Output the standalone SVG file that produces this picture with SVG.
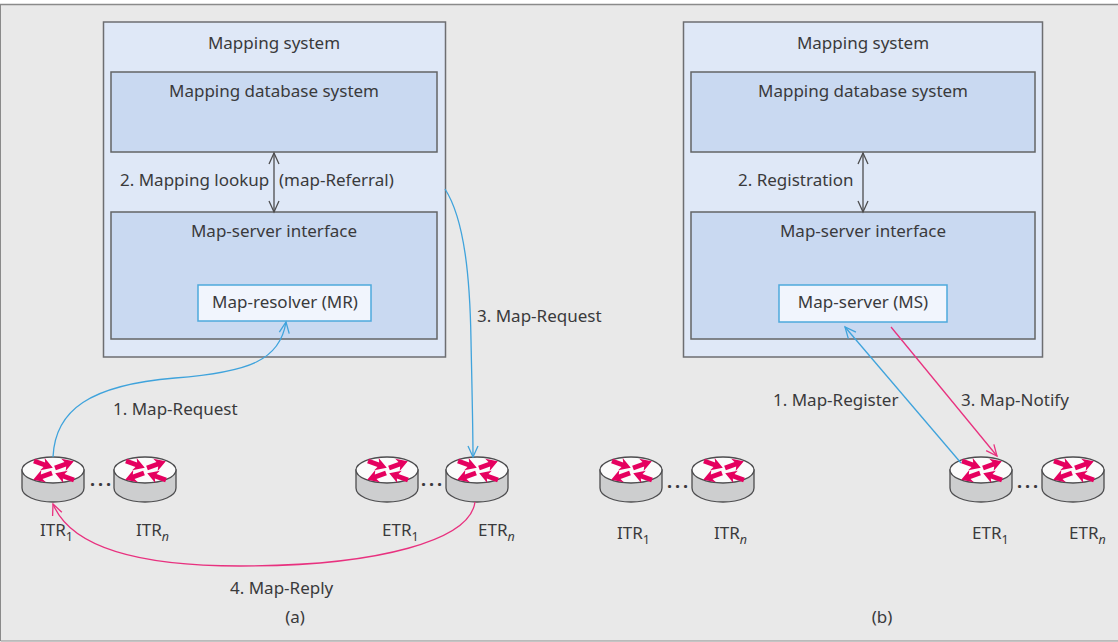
<svg xmlns="http://www.w3.org/2000/svg" width="1118" height="642" viewBox="0 0 1118 642">
<style>
text{font-family:"Noto Sans","Open Sans","Liberation Sans",sans-serif;font-size:17px;fill:#3a3a3c}
.m{text-anchor:middle}
.sys{fill:#dfe8f7;stroke:#6d6e71;stroke-width:1.5}
.db{fill:#c9d9f1;stroke:#636466;stroke-width:1.5}
.mr{fill:#f1f5fd;stroke:#4da9dc;stroke-width:1.5}
.c{fill:none;stroke-width:1.3}
.blue{stroke:#3fa3dc}
.pink{stroke:#e8317f}
.gray{stroke:#4d4d4f}
.sub{font-size:12.5px}
.dots{font-weight:bold;letter-spacing:3px;font-size:18px}
</style>
<defs>
<marker id="ab" markerWidth="14" markerHeight="14" refX="12" refY="6" orient="auto" markerUnits="userSpaceOnUse"><path d="M1 1L12 6L1 11" fill="none" stroke="#3fa3dc" stroke-width="1.3"/></marker>
<marker id="ap" markerWidth="14" markerHeight="14" refX="12" refY="6" orient="auto" markerUnits="userSpaceOnUse"><path d="M1 1L12 6L1 11" fill="none" stroke="#e8317f" stroke-width="1.3"/></marker>
<marker id="ag" markerWidth="14" markerHeight="14" refX="12" refY="6" orient="auto-start-reverse" markerUnits="userSpaceOnUse"><path d="M1 1L12 6L1 11" fill="none" stroke="#4d4d4f" stroke-width="1.3"/></marker>
<path id="arr" d="M0 -2.500L11 -2.500L9 -6.500L20 0L9 6.500L11 2.500L0 2.500Z" fill="#e5005f"/>
<g id="router">
<path d="M-31 0V18C-31 26 -17 32 0 32S31 26 31 18V0Z" fill="#cdcecf" stroke="#4d4d4f" stroke-width="1.3"/>
<ellipse cx="0" cy="0" rx="31" ry="13" fill="#fbfbfb" stroke="#4d4d4f" stroke-width="1.3"/>
<use href="#arr" transform="translate(-19 -9) rotate(20)"/>
<use href="#arr" transform="translate(2 -2) rotate(-20)"/>
<use href="#arr" transform="translate(-1 3) rotate(160)"/>
<use href="#arr" transform="translate(21 10) rotate(200)"/>
</g>
</defs>
<rect x="0" y="0" width="1118" height="642" fill="#fff"/>
<rect x="0" y="4" width="1118" height="637" fill="#e9e9e9"/>
<path d="M0 4.500H1118" stroke="#8a8a8a" stroke-width="1.500" fill="none"/>
<path d="M.5 4V641H1118" stroke="#8a8a8a" stroke-width="1" fill="none"/>

<g id="mapping-a">
<rect class="sys" x="103.500" y="22" width="342" height="335"/>
<text class="m" x="274" y="49">Mapping system</text>
</g>
<g id="database-a">
<rect class="db" x="111" y="72" width="326" height="80"/>
<text class="m" x="274" y="97">Mapping database system</text>
</g>
<g id="interface-a">
<rect class="db" x="111" y="212" width="326" height="127"/>
<text class="m" x="274" y="237">Map-server interface</text>
</g>
<g id="mr">
<rect class="mr" x="198" y="285" width="173" height="36"/>
<text class="m" x="285" y="308">Map-resolver (MR)</text>
</g>
<g id="mapping-b">
<rect class="sys" x="683.500" y="22" width="359" height="335"/>
<text class="m" x="863" y="49">Mapping system</text>
</g>
<g id="database-b">
<rect class="db" x="691" y="72" width="344" height="80"/>
<text class="m" x="863" y="97">Mapping database system</text>
</g>
<g id="interface-b">
<rect class="db" x="691" y="212" width="344" height="127"/>
<text class="m" x="863" y="237">Map-server interface</text>
</g>
<g id="ms">
<rect class="mr" x="779" y="285" width="168" height="37"/>
<text class="m" x="863" y="308">Map-server (MS)</text>
</g>

<g id="itr1-a"><use href="#router" x="53" y="470"/><text x="40" y="536">ITR<tspan class="sub" dy="5">1</tspan></text></g>
<g id="itrn-a"><use href="#router" x="145" y="470"/><text x="136" y="536">ITR<tspan class="sub" dy="5" font-style="italic">n</tspan></text></g>
<g id="etr1-a"><use href="#router" x="387" y="470"/><text x="382" y="536">ETR<tspan class="sub" dy="5">1</tspan></text></g>
<g id="etrn-a"><use href="#router" x="477" y="470"/><text x="478" y="536">ETR<tspan class="sub" dy="5" font-style="italic">n</tspan></text></g>
<g id="itr1-b"><use href="#router" x="631" y="470"/><text x="617" y="539">ITR<tspan class="sub" dy="5">1</tspan></text></g>
<g id="itrn-b"><use href="#router" x="723" y="470"/><text x="714" y="539">ITR<tspan class="sub" dy="5" font-style="italic">n</tspan></text></g>
<g id="etr1-b"><use href="#router" x="981" y="470"/><text x="972" y="539">ETR<tspan class="sub" dy="5">1</tspan></text></g>
<g id="etrn-b"><use href="#router" x="1073" y="470"/><text x="1069" y="539">ETR<tspan class="sub" dy="5" font-style="italic">n</tspan></text></g>

<g id="connectors">
<path class="c gray" d="M274 153V212" marker-start="url(#ag)" marker-end="url(#ag)"/>
<path class="c gray" d="M863 153V212" marker-start="url(#ag)" marker-end="url(#ag)"/>
<path class="c blue" d="M53 457C55 410 90 385 175 378C250 372 280 360 286 322" marker-end="url(#ab)"/>
<path class="c blue" d="M445 189C465 220 470 280 471 340C472 390 473 430 473 457" marker-end="url(#ab)"/>
<path class="c pink" d="M475 502C470 540 380 566 240 566C130 566 70 545 53 504" marker-end="url(#ap)"/>
<path class="c blue" d="M961 463L845 327" marker-end="url(#ab)"/>
<path class="c pink" d="M891 327L997 456" marker-end="url(#ap)"/>
</g>

<g id="labels">
<text x="120" y="186">2. Mapping lookup</text>
<text x="279" y="186">(map-Referral)</text>
<text x="738" y="186">2. Registration</text>
<text x="477" y="322">3. Map-Request</text>
<text x="113" y="415">1. Map-Request</text>
<text x="773" y="406">1. Map-Register</text>
<text x="961" y="406">3. Map-Notify</text>
<text x="230" y="594">4. Map-Reply</text>
<text class="m" x="295" y="623">(a)</text>
<text class="m" x="882" y="623">(b)</text>
<text class="dots" x="90" y="486">...</text>
<text class="dots" x="421" y="486">...</text>
<text class="dots" x="667" y="488">...</text>
<text class="dots" x="1017" y="488">...</text>
</g>
</svg>
